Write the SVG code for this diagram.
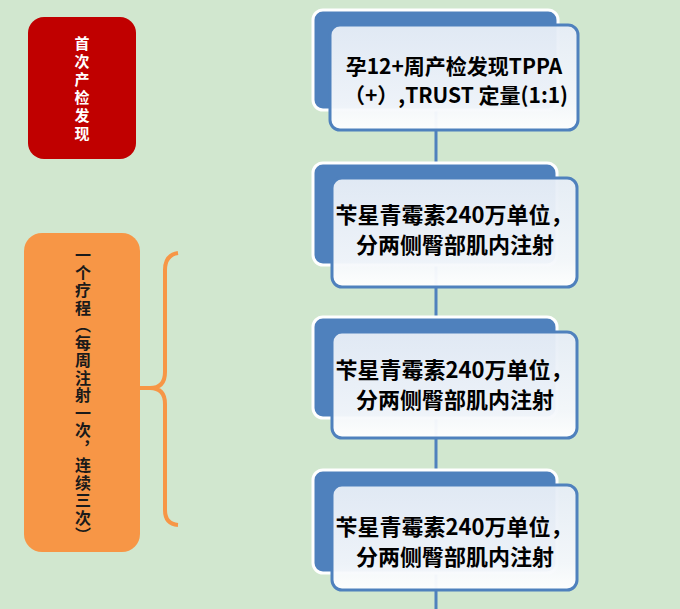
<svg xmlns="http://www.w3.org/2000/svg" width="680" height="609" viewBox="0 0 680 609">
<defs>
<linearGradient id="fg" x1="0" y1="0" x2="0" y2="1">
<stop offset="0" stop-color="#e6edf6"/>
<stop offset="0.75" stop-color="#f4f7fb"/>
<stop offset="1" stop-color="#ffffff"/>
</linearGradient>
<style>
.back{fill:#4f81bd;stroke:#ffffff;stroke-width:3}
.front{fill:url(#fg);fill-opacity:0.96;stroke:#4f81bd;stroke-width:3}
.t{font-family:"Noto Sans CJK SC","Liberation Sans",sans-serif;font-weight:700;fill:#000;text-anchor:middle}
.conn{stroke:#4f81bd;stroke-width:3;fill:none}
.v{font-family:"Noto Sans CJK SC",sans-serif;font-weight:700;writing-mode:vertical-rl;text-orientation:mixed}
</style>
</defs>
<rect width="680" height="609" fill="#d1e7cf"/>
<g id="connectors">
<line class="conn" x1="436" y1="110" x2="436" y2="609"/>
<path d="M178,253 Q165,255 165,270 L165,372 Q165,388 150,388 L139,388 M150,388 Q165,388 165,404 L165,510 Q165,524 178,525" stroke="#f79646" stroke-width="4" fill="none"/>
</g>
<g id="label-first">
<rect x="28" y="17" width="108" height="142" rx="16" fill="#c00000"/>
<text class="v" x="82" y="36" font-size="15" fill="#ffffff" letter-spacing="3">首次产检发现</text>
</g>
<g id="label-course">
<rect x="24" y="233" width="116" height="319" rx="18" fill="#f79646"/>
<text class="v" x="83" y="247" font-size="16" fill="#1a1a1a" letter-spacing="1.5">一个疗程（每周注射一次，连续三次）</text>
</g>
<g id="node1">
<rect class="back" x="313" y="10" width="245" height="100" rx="10"/>
<rect class="front" x="330" y="25" width="248" height="105" rx="10"/>
<text class="t" x="454" y="74" font-size="21">孕12+周产检发现TPPA</text>
<text class="t" x="456" y="103" font-size="21">（+）,TRUST 定量(1:1)</text>
</g>
<g id="node2">
<rect class="back" x="313" y="163" width="244" height="102" rx="10"/>
<rect class="front" x="332" y="178" width="245" height="109" rx="10"/>
<text class="t" x="454" y="223" font-size="22">苄星青霉素240万单位，</text>
<text class="t" x="455" y="253" font-size="22">分两侧臀部肌内注射</text>
</g>
<g id="node3">
<rect class="back" x="313" y="317" width="244" height="101" rx="10"/>
<rect class="front" x="332" y="332" width="245" height="106" rx="10"/>
<text class="t" x="454" y="378" font-size="22">苄星青霉素240万单位，</text>
<text class="t" x="455" y="408" font-size="22">分两侧臀部肌内注射</text>
</g>
<g id="node4">
<rect class="back" x="313" y="470" width="244" height="103" rx="10"/>
<rect class="front" x="332" y="485" width="245" height="105" rx="10"/>
<text class="t" x="454" y="535" font-size="22">苄星青霉素240万单位，</text>
<text class="t" x="455" y="565" font-size="22">分两侧臀部肌内注射</text>
</g>
</svg>
